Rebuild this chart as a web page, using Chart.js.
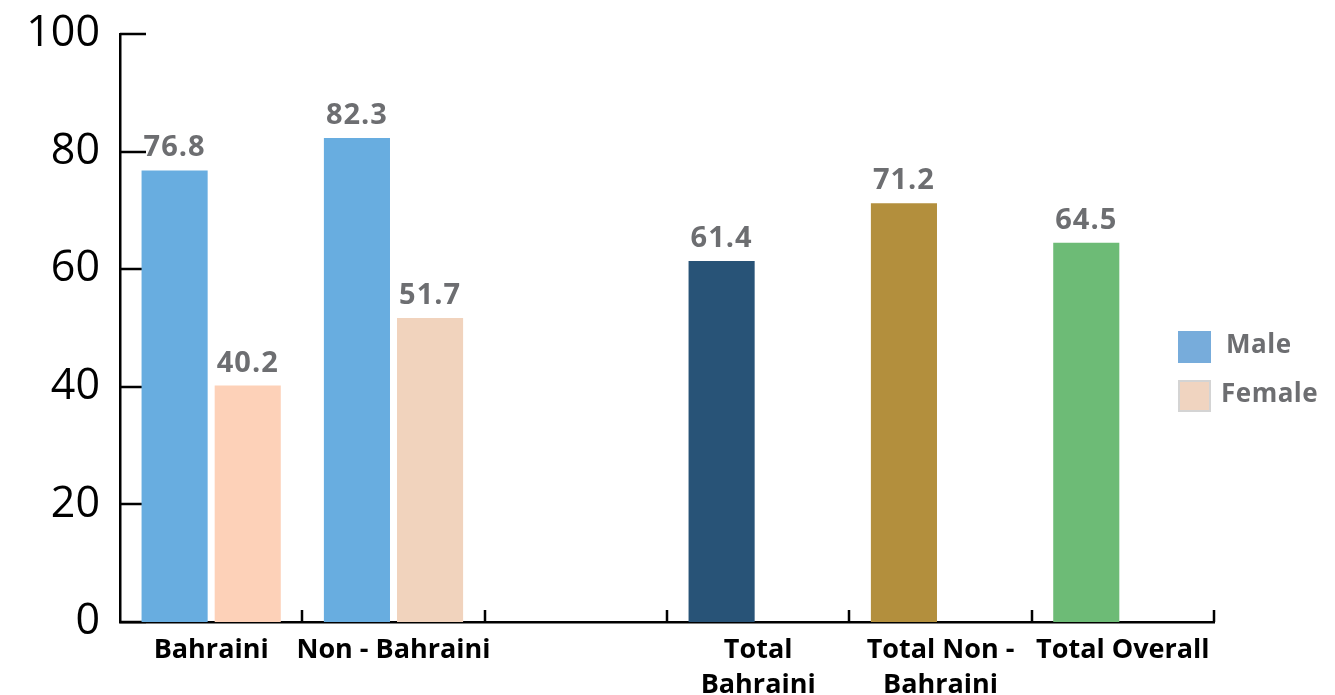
<!DOCTYPE html>
<html>
<head>
<meta charset="utf-8">
<script src="https://cdn.jsdelivr.net/npm/chart.js@4.4.1/dist/chart.umd.min.js"></script>
<style>
  html, body { margin: 0; padding: 0; background: #fff; }
  #wrap { width: 1335px; height: 695px; position: relative; }
</style>
</head>
<body>
<div id="wrap"><canvas id="rateChart"></canvas></div>
<script>
// categories on the x axis (the third one is an empty spacer slot)
const categories = ["Bahraini", "Non - Bahraini", "", ["Total", "Bahraini"], ["Total Non -", "Bahraini"], "Total Overall"];

// first bar of each group: males, then the three totals
const maleValues = [76.8, 82.3, null, 61.4, 71.2, 64.5];
const maleColors = ["#68ade0", "#68ade0", "#68ade0", "#285377", "#b38f3d", "#6dbb76"];

// second bar of each group: females
const femaleValues = [40.2, 51.7, null, null, null, null];
const femaleColors = ["#fdd1b8", "#f1d3bd", "#f1d3bd", "#f1d3bd", "#f1d3bd", "#f1d3bd"];

const yTicks = [0, 20, 40, 60, 80, 100];

const legendItems = [
  { text: "Male", fill: "#77acdb", border: null },
  { text: "Female", fill: "#f0d4c0", border: "#d4d4d4" },
];

const GREY = "#6d6e71";

// short tick marks pointing into the plot area
const innerTicks = {
  id: "innerTicks",
  beforeDatasetsDraw(chart) {
    const { ctx, scales: { x, y } } = chart;
    ctx.save();
    ctx.strokeStyle = "#000";
    ctx.lineWidth = 2.5;
    ctx.beginPath();
    y.ticks.forEach((t, i) => {
      const py = Math.round(y.getPixelForTick(i));
      ctx.moveTo(x.left, py);
      ctx.lineTo(x.left + 26, py);
    });
    for (let i = 1; i <= categories.length; i++) {
      const px = Math.round(x.getPixelForValue(i - 0.5));
      ctx.moveTo(px, y.bottom);
      ctx.lineTo(px, y.bottom - 12);
    }
    ctx.stroke();
    ctx.restore();
  },
};

// value printed above each bar
const valueLabels = {
  id: "valueLabels",
  afterDatasetsDraw(chart) {
    const { ctx } = chart;
    ctx.save();
    ctx.font = "700 29px 'Open Sans'";
    ctx.letterSpacing = "1px";
    ctx.fillStyle = GREY;
    ctx.textAlign = "center";
    ctx.textBaseline = "alphabetic";
    chart.data.datasets.forEach((ds, di) => {
      const meta = chart.getDatasetMeta(di);
      ds.data.forEach((v, i) => {
        if (v === null) return;
        const bar = meta.data[i];
        ctx.fillText(v.toFixed(1), bar.x, bar.y - 14);
      });
    });
    ctx.restore();
  },
};

// legend on the right side
const sideLegend = {
  id: "sideLegend",
  afterDraw(chart) {
    const { ctx } = chart;
    ctx.save();
    ctx.font = "700 26px 'Open Sans'";
    ctx.letterSpacing = "0.5px";
    ctx.textBaseline = "middle";
    legendItems.forEach((item, i) => {
      const top = 331 + i * 49;
      ctx.fillStyle = item.fill;
      ctx.fillRect(1178, top, 33, 32);
      if (item.border) {
        ctx.strokeStyle = item.border;
        ctx.lineWidth = 2;
        ctx.strokeRect(1179, top + 1, 31, 30);
      }
      ctx.fillStyle = GREY;
      ctx.fillText(item.text, i === 0 ? 1226 : 1221, top + 15);
    });
    ctx.restore();
  },
};

const ctx = document.getElementById("rateChart").getContext("2d");

new Chart(ctx, {
  type: "bar",
  data: {
    labels: categories,
    datasets: [
      {
        label: "Male",
        data: maleValues,
        backgroundColor: maleColors,
        categoryPercentage: 0.802,
        barPercentage: 0.904,
      },
      {
        label: "Female",
        data: femaleValues,
        backgroundColor: femaleColors,
        categoryPercentage: 0.802,
        barPercentage: 0.904,
      },
    ],
  },
  options: {
    responsive: true,
    maintainAspectRatio: false,
    animation: false,
    layout: { padding: { top: 34, right: 121, left: 0, bottom: 0 } },
    plugins: {
      legend: { display: false },
      tooltip: { enabled: false },
    },
    scales: {
      x: {
        grid: { display: false, drawTicks: false },
        border: { display: true, color: "#000", width: 2.5 },
        ticks: {
          color: "#000",
          padding: 11,
          maxRotation: 0,
          autoSkip: false,
          font: { family: "'Open Sans'", size: 27, weight: "700", lineHeight: 1.3 },
        },
        afterFit(scale) {
          scale.height = 73;
        },
      },
      y: {
        min: 0,
        max: 100,
        afterBuildTicks(scale) {
          scale.ticks = yTicks.map((v) => ({ value: v }));
        },
        grid: { display: false, drawTicks: false },
        border: { display: true, color: "#000", width: 2.5 },
        ticks: {
          color: "#000",
          padding: 20,
          font: { family: "'Open Sans'", size: 43, weight: "400" },
        },
        afterFit(scale) {
          scale.width = 120;
          scale.paddingTop = 0;
          scale.paddingBottom = 0;
        },
      },
    },
  },
  plugins: [innerTicks, valueLabels, sideLegend],
});
</script>
</body>
</html>
